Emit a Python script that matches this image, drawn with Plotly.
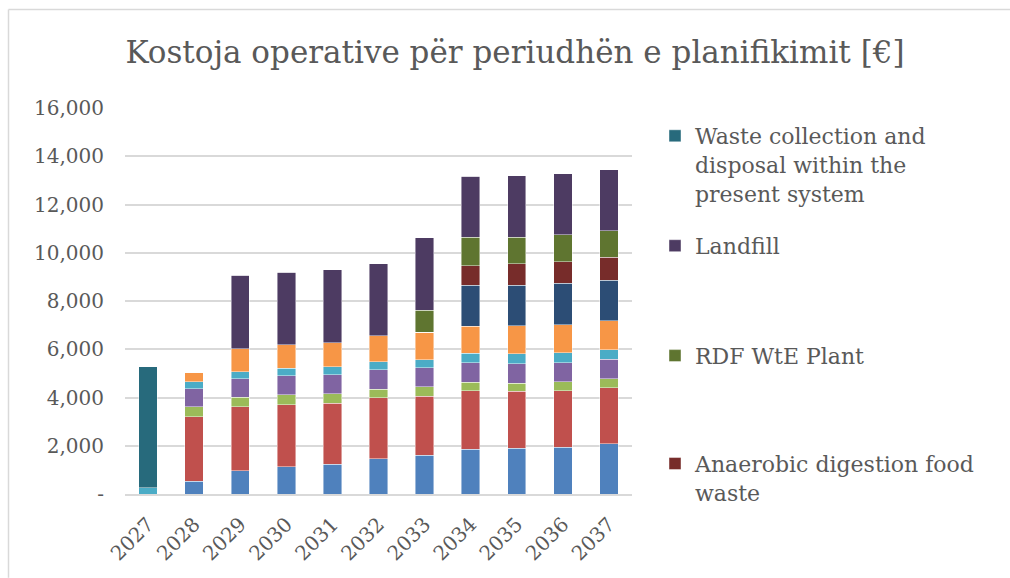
import plotly.graph_objects as go

years = ["2027", "2028", "2029", "2030", "2031", "2032", "2033", "2034", "2035", "2036", "2037"]

# stack order: bottom -> top
s_blue = [0, 520, 960, 1120, 1230, 1470, 1600, 1850, 1890, 1940, 2080]
s_red = [0, 2690, 2660, 2590, 2540, 2520, 2450, 2430, 2360, 2350, 2330]
s_green = [0, 400, 400, 400, 390, 360, 390, 360, 345, 360, 360]
s_purple = [0, 760, 760, 800, 790, 800, 800, 800, 810, 800, 810]
s_cyan = [250, 290, 290, 305, 330, 330, 330, 385, 400, 400, 400]
s_orange = [0, 390, 950, 965, 990, 1080, 1130, 1120, 1170, 1170, 1200]
s_darkblue = [0, 0, 0, 0, 0, 0, 0, 1710, 1670, 1710, 1670]
anaerobic = [0, 0, 0, 0, 0, 0, 0, 810, 900, 900, 965]
rdf_wte = [0, 0, 0, 0, 0, 0, 910, 1175, 1105, 1120, 1090]
landfill = [0, 0, 3050, 3010, 3020, 2990, 3010, 2525, 2540, 2525, 2540]
present_system = [5030, 0, 0, 0, 0, 0, 0, 0, 0, 0, 0]

y_ticks = [0, 2000, 4000, 6000, 8000, 10000, 12000, 14000, 16000]
y_ticktext = ["-", "2,000", "4,000", "6,000", "8,000", "10,000", "12,000", "14,000", "16,000"]

FONT = "DejaVu Serif"
GREY = "#595959"

series = [
    ("Series 1", s_blue, "#4F81BD", None),
    ("Series 2", s_red, "#C0504D", None),
    ("Series 3", s_green, "#9BBB59", None),
    ("Series 4", s_purple, "#8064A2", None),
    ("Series 5", s_cyan, "#4BACC6", None),
    ("Series 6", s_orange, "#F79646", None),
    ("Series 7", s_darkblue, "#2C4D75", None),
    ("Anaerobic digestion food<br>waste", anaerobic, "#772C2A", "legend4"),
    ("RDF WtE Plant", rdf_wte, "#5F7530", "legend3"),
    ("Landfill", landfill, "#4D3B62", "legend2"),
    ("Waste collection and<br>disposal within the<br>present system", present_system, "#276A7C", "legend"),
]

fig = go.Figure()
for name, vals, color, leg in series:
    fig.add_trace(go.Bar(
        x=years, y=vals, name=name,
        marker=dict(color=color, line=dict(color="rgba(255,255,255,0.55)", width=0.8)),
        showlegend=leg is not None,
        legend=leg if leg else "legend",
    ))

# plot area: x 125..632, y 108..494
L, R, T, B = 125, 632, 108, 494.3
W, H = R - L, B - T

def px_x(p):
    return (p - L) / W

def px_y(p):
    return (B - p) / H

leg_common = dict(
    font=dict(family=FONT, size=22, color=GREY),
    bgcolor="rgba(0,0,0,0)", borderwidth=0,
    xanchor="left", yanchor="top", valign="top",
    itemwidth=30, x=px_x(655),
)

fig.update_layout(
    width=1010, height=578,
    margin=dict(l=L, r=1010 - R, t=T, b=578 - B),
    paper_bgcolor="white", plot_bgcolor="white",
    barmode="stack", bargap=0.6,
    title=dict(
        text="Kostoja operative për periudhën e planifikimit [€]",
        font=dict(family=FONT, size=31, color=GREY),
        x=515 / 1010, xanchor="center",
        y=1 - 52 / 578, yanchor="middle", yref="container",
    ),
    xaxis=dict(
        tickangle=-45, tickfont=dict(family=FONT, size=20, color=GREY),
        showline=True, linecolor="#D9D9D9", linewidth=1.5,
        showgrid=False, ticks="", ticklabelstandoff=9,
    ),
    yaxis=dict(
        range=[0, 16000], tickvals=y_ticks, ticktext=y_ticktext,
        tickfont=dict(family=FONT, size=20, color=GREY),
        showgrid=True, gridcolor="#D9D9D9", gridwidth=1.5,
        zeroline=False, showline=False, ticks="", ticklen=0,
        ticklabelstandoff=20,
    ),
    legend=dict(**leg_common, y=px_y(115)),
    legend2=dict(**leg_common, y=px_y(225)),
    legend3=dict(**leg_common, y=px_y(335)),
    legend4=dict(**leg_common, y=px_y(443)),
    shapes=[
        dict(type="line", xref="paper", yref="paper",
             x0=px_x(8.5), x1=px_x(1010), y0=px_y(9.5), y1=px_y(9.5),
             line=dict(color="#D9D9D9", width=1.5)),
        dict(type="line", xref="paper", yref="paper",
             x0=px_x(8.5), x1=px_x(8.5), y0=px_y(9.5), y1=px_y(578),
             line=dict(color="#D9D9D9", width=1.5)),
    ],
)

fig.write_html("out.html", config={"displayModeBar": False},
               post_script="document.body.style.margin='0';")
